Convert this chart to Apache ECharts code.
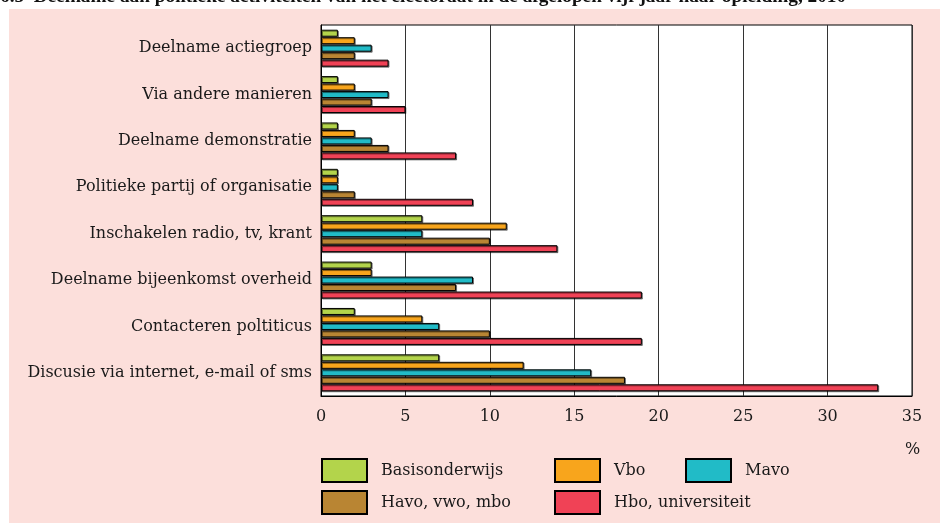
<!DOCTYPE html>
<html>
<head>
<meta charset="utf-8">
<script src="https://cdn.jsdelivr.net/npm/echarts@6/dist/echarts.min.js"></script>
<style>
  html, body { margin: 0; padding: 0; background: #fff; }
  #chart { width: 943px; height: 523px; }
</style>
</head>
<body>
<div id="chart"></div>
<script>
// categories, top to bottom
const categories = [
  "Deelname actiegroep",
  "Via andere manieren",
  "Deelname demonstratie",
  "Politieke partij of organisatie",
  "Inschakelen radio, tv, krant",
  "Deelname bijeenkomst overheid",
  "Contacteren poltiticus",
  "Discusie via internet, e-mail of sms"
];
const seriesNames = ["Basisonderwijs", "Vbo", "Mavo", "Havo, vwo, mbo", "Hbo, universiteit"];
const basis = [1, 1, 1, 1, 6, 3, 2, 7];
const vbo = [2, 2, 2, 1, 11, 3, 6, 12];
const mavo = [3, 4, 3, 1, 6, 9, 7, 16];
const havo = [2, 3, 4, 2, 10, 8, 10, 18];
const hbo = [4, 5, 8, 9, 14, 19, 19, 33];
const xTicks = [0, 5, 10, 15, 20, 25, 30, 35];

const colors = ["#B3D44B", "#F8A51C", "#21BBC7", "#B98533", "#F04256"];
const values = [basis, vbo, mavo, havo, hbo];
const serif = "DejaVu Serif";

const chart = echarts.init(document.getElementById("chart"));

const series = values.map((v, i) => ({
  name: seriesNames[i],
  type: "bar",
  data: v,
  barWidth: 7,
  barGap: "7%",
  itemStyle: {
    color: colors[i],
    borderColor: "#000",
    borderWidth: 1,
    shadowColor: "rgba(0,0,0,0.45)",
    shadowOffsetX: 1,
    shadowOffsetY: 1,
    shadowBlur: 0
  }
}));

// legend positions (one small legend per item)
const legendPos = [
  [321, 458], [554, 458], [685, 458],
  [321, 490], [554, 490]
];
const legends = seriesNames.map((n, i) => ({
  data: [n],
  left: legendPos[i][0],
  top: legendPos[i][1],
  icon: "rect",
  itemWidth: 45,
  itemHeight: 23,
  selectedMode: false,
  padding: 0,
  textStyle: {
    fontFamily: serif,
    fontSize: 16,
    color: "#1a1a1a",
    padding: [18, 0, 0, 9]
  }
}));

const option = {
  animation: false,
  backgroundColor: "#fff",
  graphic: [
    {
      type: "text",
      left: 0,
      top: -12,
      z: -20,
      style: {
        text: "6.5  Deelname aan politieke activiteiten van het electoraat in de afgelopen vijf jaar naar opleiding, 2010",
        font: "bold 19.3px 'Liberation Serif'",
        fill: "#111"
      }
    },
    {
      type: "rect",
      z: -10,
      silent: true,
      shape: { x: 9, y: 9, width: 931, height: 514 },
      style: { fill: "#FCDFDB" }
    },
    {
      type: "text",
      left: 905,
      top: 442,
      z: 3,
      style: { text: "%", font: "16px '" + serif + "'", fill: "#1a1a1a" }
    }
  ],
  legend: legends,
  grid: {
    left: 321,
    right: 31,
    top: 25,
    bottom: 127,
    show: true,
    z: -5,
    backgroundColor: "#fff",
    borderColor: "#000",
    borderWidth: 1
  },
  xAxis: {
    type: "value",
    min: 0,
    max: 35,
    interval: 5,
    axisLine: { show: true, lineStyle: { color: "#000" } },
    axisTick: { show: false },
    axisLabel: {
      margin: 13,
      fontFamily: serif,
      fontSize: 16,
      color: "#1a1a1a",
      formatter: (v) => (xTicks.indexOf(v) >= 0 ? String(v) : "")
    },
    splitLine: { show: true, lineStyle: { color: "#333", width: 1 } }
  },
  yAxis: {
    type: "category",
    data: categories,
    inverse: true,
    axisLine: { show: true, lineStyle: { color: "#000" } },
    axisTick: { show: false },
    axisLabel: {
      margin: 9,
      fontFamily: serif,
      fontSize: 16,
      color: "#1a1a1a"
    },
    splitLine: { show: false }
  },
  series: series
};

chart.setOption(option);
</script>
</body>
</html>
